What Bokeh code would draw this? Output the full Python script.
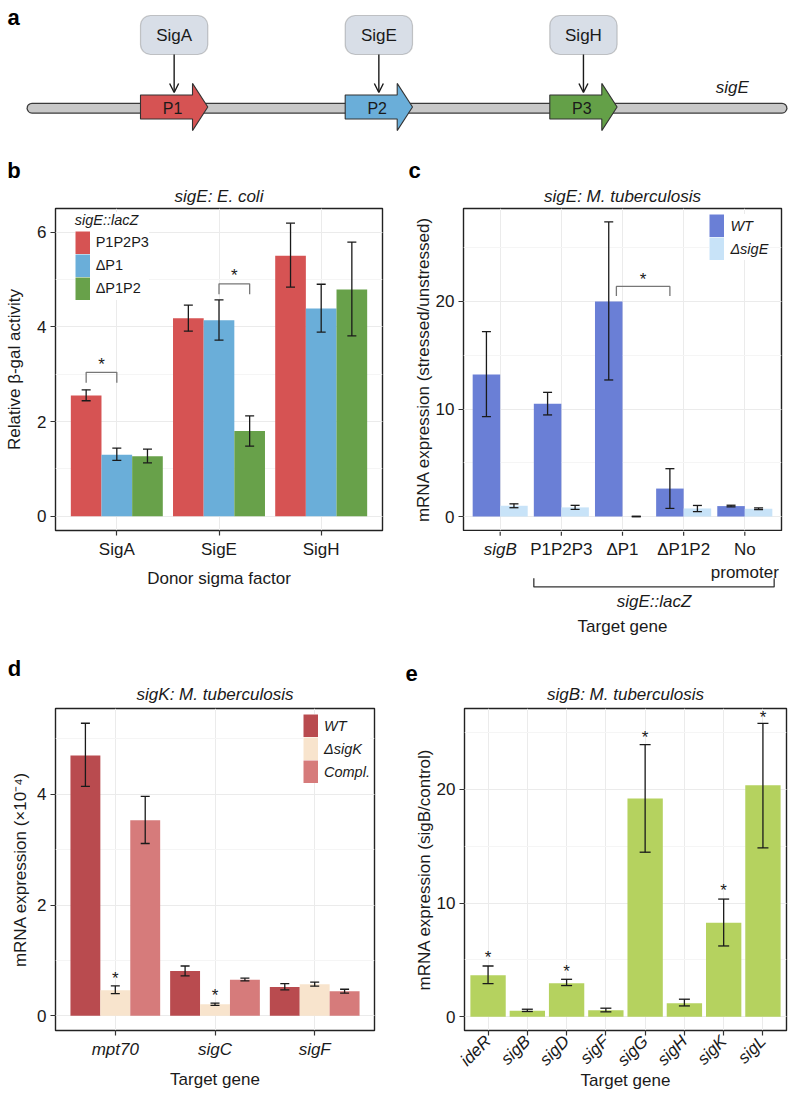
import math
from bokeh.plotting import figure
from bokeh.models import (Range1d, FixedTicker, SingleIntervalTicker, ColumnDataSource,
                          Whisker, TeeHead, Legend, LegendItem, Title, BoxAnnotation,
                          Arrow, OpenHead)
from bokeh.layouts import column, row
from bokeh.core.properties import value
from bokeh.embed import file_html
from bokeh.resources import INLINE

FONT = "Liberation Sans"
INK = "#1a1a1a"
GRID = "#ebebeb"
MINOR = "#f5f5f5"
FS = "17px"
LEG_FS = "14.5px"

# ---------------- data ----------------
# (a) schematic of the sigE upstream region
a_promoters = ["P1", "P2", "P3"]
a_sigmas = ["SigA", "SigE", "SigH"]
a_promoter_start = [140, 344.7, 549.3]
a_colors = ["#d65353", "#6aaed9", "#64a048"]
a_gene = "sigE"

# (b) sigE: E. coli
b_donors = ["SigA", "SigE", "SigH"]
b_constructs = ["P1P2P3", "ΔP1", "ΔP1P2"]
b_colors = ["#d65353", "#6aaed9", "#68a14a"]
b_P1P2P3 = [2.55, 4.18, 5.50]
b_P1P2P3_lo = [2.44, 3.91, 4.84]
b_P1P2P3_hi = [2.67, 4.46, 6.19]
b_dP1 = [1.30, 4.14, 4.39]
b_dP1_lo = [1.18, 3.72, 3.89]
b_dP1_hi = [1.44, 4.57, 4.90]
b_dP1P2 = [1.27, 1.80, 4.79]
b_dP1P2_lo = [1.13, 1.48, 3.81]
b_dP1P2_hi = [1.42, 2.12, 5.79]
b_sig_donor = ["SigA", "SigE"]
b_sig_from = ["P1P2P3", "ΔP1"]
b_sig_to = ["ΔP1", "ΔP1P2"]
b_sig_y = [3.04, 4.91]

# (c) sigE: M. tuberculosis
c_targets = ["sigB", "P1P2P3", "ΔP1", "ΔP1P2", "No\npromoter"]
c_italic = [True, False, False, False, False]
c_strains = ["WT", "ΔsigE"]
c_colors = ["#6a7fd6", "#c8e3f8"]
c_WT = [13.2, 10.5, 20.0, 2.6, 0.97]
c_WT_lo = [9.3, 9.45, 12.7, 0.75, 0.90]
c_WT_hi = [17.2, 11.55, 27.4, 4.45, 1.05]
c_dsigE = [1.0, 0.85, 0.0, 0.75, 0.72]
c_dsigE_lo = [0.82, 0.66, 0.0, 0.45, 0.64]
c_dsigE_hi = [1.18, 1.04, 0.0, 1.03, 0.80]
c_sig_from = "ΔP1"
c_sig_to = "ΔP1P2"
c_sig_y = 21.4
c_lacz = ["P1P2P3", "ΔP1", "ΔP1P2", "No\npromoter"]

# (d) sigK: M. tuberculosis
d_targets = ["mpt70", "sigC", "sigF"]
d_strains = ["WT", "ΔsigK", "Compl."]
d_colors = ["#b94b4f", "#f8e4cd", "#d67b7b"]
d_WT = [4.70, 0.81, 0.52]
d_WT_lo = [4.14, 0.72, 0.47]
d_WT_hi = [5.28, 0.90, 0.58]
d_dsigK = [0.46, 0.21, 0.57]
d_dsigK_lo = [0.40, 0.19, 0.535]
d_dsigK_hi = [0.54, 0.23, 0.61]
d_compl = [3.53, 0.65, 0.445]
d_compl_lo = [3.11, 0.63, 0.41]
d_compl_hi = [3.96, 0.68, 0.48]
d_star_targets = ["mpt70", "sigC"]
d_star_y = [0.75, 0.44]

# (e) sigB: M. tuberculosis
e_targets = ["ideR", "sigB", "sigD", "sigF", "sigG", "sigH", "sigK", "sigL"]
e_color = "#b5d25f"
e_vals = [3.65, 0.53, 2.95, 0.58, 19.18, 1.2, 8.27, 20.35]
e_lo = [2.92, 0.47, 2.75, 0.44, 14.47, 0.96, 6.23, 14.85]
e_hi = [4.47, 0.67, 3.30, 0.76, 23.92, 1.55, 10.35, 25.8]
e_star_targets = ["ideR", "sigD", "sigG", "sigK", "sigL"]
e_star_y = [5.6, 4.3, 24.9, 11.46, 26.7]


# ---------------- helpers ----------------
def make_fig(width, height, left, right, top, bottom, ncat, yr, title, tstand,
             letter_txt, loff, lstand):
    p = figure(width=width, height=height, x_range=Range1d(0.4, ncat + 0.6),
               y_range=Range1d(*yr), output_backend="svg", toolbar_location=None,
               min_border_left=left, min_border_right=right,
               min_border_top=top, min_border_bottom=bottom, title=None)
    p.outline_line_color = "#222"
    p.outline_line_width = 1.4
    p.background_fill_color = "white"
    p.border_fill_color = "white"
    # panel title next to the frame, panel letter above it
    p.add_layout(Title(text=title, align="center", standoff=tstand, text_font=FONT,
                       text_font_size=FS, text_font_style="italic", text_color=INK), "above")
    p.add_layout(Title(text=letter_txt, align="left", offset=loff, standoff=lstand,
                       text_font=FONT, text_font_size="22px", text_font_style="bold",
                       text_color="#000"), "above")
    for ax in list(p.xaxis) + list(p.yaxis):
        ax.axis_line_color = None
        ax.major_tick_line_color = "#333"
        ax.major_tick_line_width = 1.2
        ax.major_tick_out = 5
        ax.major_tick_in = 0
        ax.minor_tick_line_color = None
        ax.major_label_text_font = FONT
        ax.major_label_text_font_size = FS
        ax.major_label_text_color = INK
        ax.major_label_standoff = 4
        ax.axis_label_text_font = FONT
        ax.axis_label_text_font_size = FS
        ax.axis_label_text_font_style = "normal"
        ax.axis_label_text_color = INK
    xt = FixedTicker(ticks=list(range(1, ncat + 1)))
    p.xaxis.ticker = xt
    p.xgrid.ticker = xt
    p.xgrid.grid_line_color = GRID
    p.ygrid.grid_line_color = GRID
    p.ygrid.minor_grid_line_color = MINOR
    return p


def set_yticks(p, interval):
    t = SingleIntervalTicker(interval=interval, num_minor_ticks=2)
    p.yaxis.ticker = t
    p.ygrid.ticker = t


def grouped_bars(p, vals, los, his, colors, total_w, cap):
    k = len(vals)
    bw = total_w / k
    for j in range(k):
        off = (j - (k - 1) / 2) * bw
        xs = [i + 1 + off for i in range(len(vals[j]))]
        p.vbar(x=xs, top=vals[j], bottom=0, width=bw, fill_color=colors[j], line_color=None)
        src = ColumnDataSource(dict(x=xs, lo=los[j], hi=his[j]))
        p.add_layout(Whisker(source=src, base="x", lower="lo", upper="hi", level="annotation",
                             line_color=INK, line_width=1.3,
                             upper_head=TeeHead(size=cap, line_color=INK, line_width=1.3),
                             lower_head=TeeHead(size=cap, line_color=INK, line_width=1.3)))
    return bw


def add_legend(p, labels, colors, vx, vy, italic, title=None):
    # legend keys: solid colour blocks (thick butt-capped line kept outside the frame)
    keys = [p.line(x=[-50, -49], y=[-50, -50], line_width=23, line_color=c, line_cap="butt")
            for c in colors]
    leg = Legend(items=[LegendItem(label=l, renderers=[r]) for l, r in zip(labels, keys)],
                 location=(vx, vy), glyph_width=15, glyph_height=23, label_height=23,
                 spacing=0, padding=2, margin=0, label_standoff=6,
                 label_text_font=FONT, label_text_font_size=LEG_FS, label_text_color=INK,
                 label_text_font_style="italic" if italic else "normal",
                 border_line_color=None, background_fill_color="white", background_fill_alpha=1)
    if title:
        leg.title = title
        leg.title_text_font = FONT
        leg.title_text_font_size = LEG_FS
        leg.title_text_font_style = "italic"
        leg.title_text_color = INK
        leg.title_standoff = 3
    p.add_layout(leg)


def stars(p, xs, ys):
    p.text(x=xs, y=ys, text=["*"] * len(xs), text_align="center", text_baseline="middle",
           y_offset=4, text_font=value(FONT), text_font_size=FS, text_color=INK)


# ---------------- panel a ----------------
pa = figure(width=788, height=150, x_range=Range1d(0, 788), y_range=Range1d(150, 0),
            x_axis_type=None, y_axis_type=None, output_backend="svg", toolbar_location=None,
            min_border=0)
pa.outline_line_color = None
pa.grid.visible = False
gene_x = [31.5, 781.5]
line_y = 107.7
pa.line(gene_x, [line_y, line_y], line_width=11, line_color="#3a3a3a", line_cap="round")
pa.line(gene_x, [line_y, line_y], line_width=8.4, line_color="#c8c8c8", line_cap="round")
body_len, head_len, body_half, head_half, arrow_y = 52.0, 15.3, 12.0, 23.6, 106.5
pxs, pys = [], []
for s in a_promoter_start:
    pxs.append([s, s + body_len, s + body_len, s + body_len + head_len, s + body_len, s + body_len, s])
    pys.append([arrow_y - body_half, arrow_y - body_half, arrow_y - head_half, arrow_y,
                arrow_y + head_half, arrow_y + body_half, arrow_y + body_half])
pa.patches(pxs, pys, fill_color=a_colors, line_color="#333", line_width=1.1)
pa.text(x=[s + 32 for s in a_promoter_start], y=[107.5] * 3, text=a_promoters,
        text_align="center", text_baseline="middle", text_font=value(FONT),
        text_font_size="16px", text_color=INK)
box_w, box_top, box_bot = 67.3, 15, 54
for s in a_promoter_start:
    pa.add_layout(BoxAnnotation(left=s, right=s + box_w, top=box_top, bottom=box_bot,
                                fill_color="#d8dee7", fill_alpha=1, line_color="#555",
                                line_width=1.2, border_radius=10, level="underlay"))
    pa.add_layout(Arrow(end=OpenHead(size=9, line_width=1.4, line_color=INK),
                        x_start=s + box_w / 2, y_start=box_bot, x_end=s + box_w / 2, y_end=92,
                        line_width=1.4, line_color=INK))
pa.text(x=[s + box_w / 2 for s in a_promoter_start], y=[34.5] * 3, text=a_sigmas,
        text_align="center", text_baseline="middle", text_font=value(FONT),
        text_font_size=FS, text_color=INK)
pa.text(x=[731.7], y=[87.3], text=[a_gene], text_align="center", text_baseline="middle",
        text_font=value(FONT), text_font_size=FS, text_font_style="italic", text_color=INK)
pa.text(x=[7], y=[17], text=["a"], text_align="left", text_baseline="alphabetic",
        text_font=value(FONT), text_font_size="22px", text_font_style="bold", text_color="#000")

# ---------------- panel b ----------------
pb = make_fig(390, 495, 55, 8, 58, 115, len(b_donors), (-0.3, 6.5), "sigE: E. coli", 5,
              "b", -48.3, 0)
set_yticks(pb, 2)
pb.xaxis.major_label_overrides = {i + 1: d for i, d in enumerate(b_donors)}
pb.xaxis.axis_label = "Donor sigma factor"
pb.xaxis.axis_label_standoff = 7
pb.yaxis.axis_label = "Relative β-gal activity"
pb.yaxis.axis_label_standoff = 10
b_bw = grouped_bars(pb, [b_P1P2P3, b_dP1, b_dP1P2], [b_P1P2P3_lo, b_dP1_lo, b_dP1P2_lo],
                    [b_P1P2P3_hi, b_dP1_hi, b_dP1P2_hi], b_colors, 0.9, 9)
bxs, bys, bsx = [], [], []
for dn, f, t, y in zip(b_sig_donor, b_sig_from, b_sig_to, b_sig_y):
    base = b_donors.index(dn) + 1
    x0 = base + (b_constructs.index(f) - 1) * b_bw
    x1 = base + (b_constructs.index(t) - 1) * b_bw
    bxs.append([x0, x0, x1, x1])
    bys.append([y - 0.22, y, y, y - 0.22])
    bsx.append((x0 + x1) / 2)
pb.multi_line(bxs, bys, line_color="#777", line_width=1.3)
stars(pb, bsx, [y + 0.25 for y in b_sig_y])
add_legend(pb, b_constructs, b_colors, 19.7, 230.4, False, "sigE::lacZ")

# ---------------- panel c ----------------
pc = make_fig(398, 381, 73, 7, 58, 1, len(c_targets), (-1.3, 28.65),
              "sigE: M. tuberculosis", 5, "c", -55, 0)
set_yticks(pc, 10)
pc.xaxis.visible = False
pc.yaxis.axis_label = "mRNA expression (stressed/unstressed)"
pc.yaxis.axis_label_standoff = 0
c_bw = grouped_bars(pc, [c_WT, c_dsigE], [c_WT_lo, c_dsigE_lo], [c_WT_hi, c_dsigE_hi],
                    c_colors, 0.9, 9)
cx0 = c_targets.index(c_sig_from) + 1 - 0.1
cx1 = c_targets.index(c_sig_to) + 1 - c_bw / 2
pc.line([cx0, cx0, cx1, cx1], [c_sig_y - 0.9, c_sig_y, c_sig_y, c_sig_y - 0.9],
        line_color="#777", line_width=1.3)
stars(pc, [(cx0 + cx1) / 2], [c_sig_y + 1.0])
add_legend(pc, c_strains, c_colors, 246.4, 269.7, True)

# area under panel c: ticks, category labels, construct bracket and axis title
pcs = figure(width=398, height=114, x_range=pc.x_range, y_range=Range1d(645.3, 531.3),
             x_axis_type=None, y_axis_type=None, output_backend="svg", toolbar_location=None,
             min_border_left=73, min_border_right=7, min_border_top=0, min_border_bottom=0)
pcs.outline_line_color = None
pcs.grid.visible = False
c_pos = [i + 1 for i in range(len(c_targets))]
pcs.segment(x0=c_pos, y0=[531.3] * len(c_pos), x1=c_pos, y1=[535.6] * len(c_pos),
            line_color="#333", line_width=1.2)
for ital in (False, True):
    xs = [x for x, it in zip(c_pos, c_italic) if it == ital]
    tx = [t for t, it in zip(c_targets, c_italic) if it == ital]
    pcs.text(x=xs, y=[540] * len(xs), text=tx, text_align="center", text_baseline="top",
             text_font=value(FONT), text_font_size=FS,
             text_font_style="italic" if ital else "normal", text_color=INK,
             text_line_height=1.2)
lx0 = c_targets.index(c_lacz[0]) + 1 - 0.45
lx1 = c_targets.index(c_lacz[-1]) + 1 + 0.48
pcs.line([lx0, lx0, lx1, lx1], [578, 586.7, 586.7, 578], line_color="#333", line_width=1.3)
pcs.text(x=[(lx0 + lx1) / 2], y=[601.7], text=["sigE::lacZ"], text_align="center",
         text_baseline="middle", text_font=value(FONT), text_font_size=FS,
         text_font_style="italic", text_color=INK)
pcs.text(x=[(len(c_targets) + 1) / 2], y=[626.7], text=["Target gene"], text_align="center",
         text_baseline="middle", text_font=value(FONT), text_font_size=FS, text_color=INK)

# ---------------- panel d ----------------
pd_ = make_fig(390, 459, 55, 16, 63, 74, len(d_targets), (-0.264, 5.546),
               "sigK: M. tuberculosis", 9, "d", -47.7, -5)
set_yticks(pd_, 2)
pd_.xaxis.major_label_overrides = {i + 1: t for i, t in enumerate(d_targets)}
pd_.xaxis.major_label_text_font_style = "italic"
pd_.xaxis.axis_label = "Target gene"
pd_.xaxis.axis_label_standoff = 8
pd_.yaxis.axis_label = "mRNA expression (×10⁻⁴)"
pd_.yaxis.axis_label_standoff = 4
grouped_bars(pd_, [d_WT, d_dsigK, d_compl], [d_WT_lo, d_dsigK_lo, d_compl_lo],
             [d_WT_hi, d_dsigK_hi, d_compl_hi], d_colors, 0.9, 9)
stars(pd_, [d_targets.index(t) + 1 for t in d_star_targets], d_star_y)
add_legend(pd_, d_strains, d_colors, 248, 247, True)

# ---------------- panel e ----------------
pe = make_fig(398, 459, 74, 2, 63, 74, len(e_targets), (-1.2, 27.1),
              "sigB: M. tuberculosis", 9, "e", -59, -5)
set_yticks(pe, 10)
pe.xaxis.major_label_overrides = {i + 1: t for i, t in enumerate(e_targets)}
pe.xaxis.major_label_text_font_style = "italic"
pe.xaxis.major_label_orientation = math.pi / 4
pe.xaxis.major_label_standoff = 3
pe.xaxis.axis_label = "Target gene"
pe.xaxis.axis_label_standoff = -9
pe.yaxis.axis_label = "mRNA expression (sigB/control)"
pe.yaxis.axis_label_standoff = 0
grouped_bars(pe, [e_vals], [e_lo], [e_hi], [e_color], 0.9, 11)
stars(pe, [e_targets.index(t) + 1 for t in e_star_targets], e_star_y)

layout = column(pa, row(pb, column(pc, pcs)), row(pd_, pe))
open("out.html", "w").write(file_html(layout, INLINE))
